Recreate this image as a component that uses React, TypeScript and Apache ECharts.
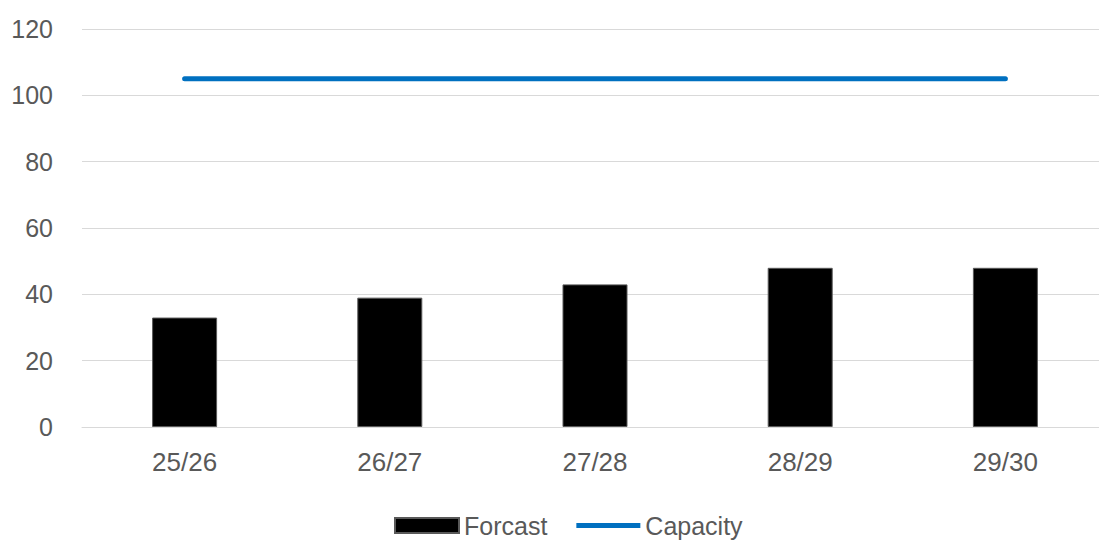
import React, { useEffect, useRef } from "react";
import * as echarts from "echarts";

const categories = ["25/26", "26/27", "27/28", "28/29", "29/30"];
const forecast = [33, 39, 43, 48, 48];
const capacity = [105, 105, 105, 105, 105];
const yTicks = { min: 0, max: 120, interval: 20 };

export default function App() {
  const ref = useRef<HTMLDivElement>(null);
  useEffect(() => {
    const chart = echarts.init(ref.current!, null, { renderer: "svg" });
    const font = "'Liberation Sans', Arial, sans-serif";
    chart.setOption({
      animation: false,
      textStyle: { fontFamily: font },
      grid: { left: 82, top: 29, right: 12, height: 398 },
      xAxis: {
        type: "category",
        data: categories,
        boundaryGap: true,
        axisLine: { show: true, lineStyle: { color: "#d9d9d9", width: 1 } },
        axisTick: { show: false },
        axisLabel: { color: "#595959", fontSize: 26, margin: 22, fontFamily: font },
      },
      yAxis: {
        type: "value",
        min: yTicks.min,
        max: yTicks.max,
        interval: yTicks.interval,
        axisLine: { show: false },
        axisTick: { show: false },
        splitLine: { lineStyle: { color: "#d9d9d9", width: 1 } },
        axisLabel: { color: "#595959", fontSize: 25, margin: 29, fontFamily: font },
      },
      legend: {
        top: 513,
        left: 394,
        padding: 0,
        itemWidth: 64,
        itemHeight: 15,
        itemGap: 29,
        textStyle: { color: "#595959", fontSize: 25, fontFamily: font },
        data: [
          { name: "Forcast", icon: "rect" },
          { name: "Capacity", icon: "path://M0,0 L64,0 L64,5 L0,5 Z" },
        ],
      },
      series: [
        {
          name: "Forcast",
          type: "bar",
          data: forecast,
          barWidth: 65,
          itemStyle: { color: "#000000", borderColor: "#595959", borderWidth: 1 },
        },
        {
          name: "Capacity",
          type: "line",
          data: capacity,
          symbol: "none",
          showSymbol: false,
          lineStyle: { color: "#0070C0", width: 5, cap: "round" },
          itemStyle: { color: "#0070C0" },
        },
      ],
    });
    return () => chart.dispose();
  }, []);
  return (
    <div
      ref={ref}
      style={{ position: "fixed", left: 0, top: 0, width: 1120, height: 540, background: "#fff" }}
    />
  );
}
